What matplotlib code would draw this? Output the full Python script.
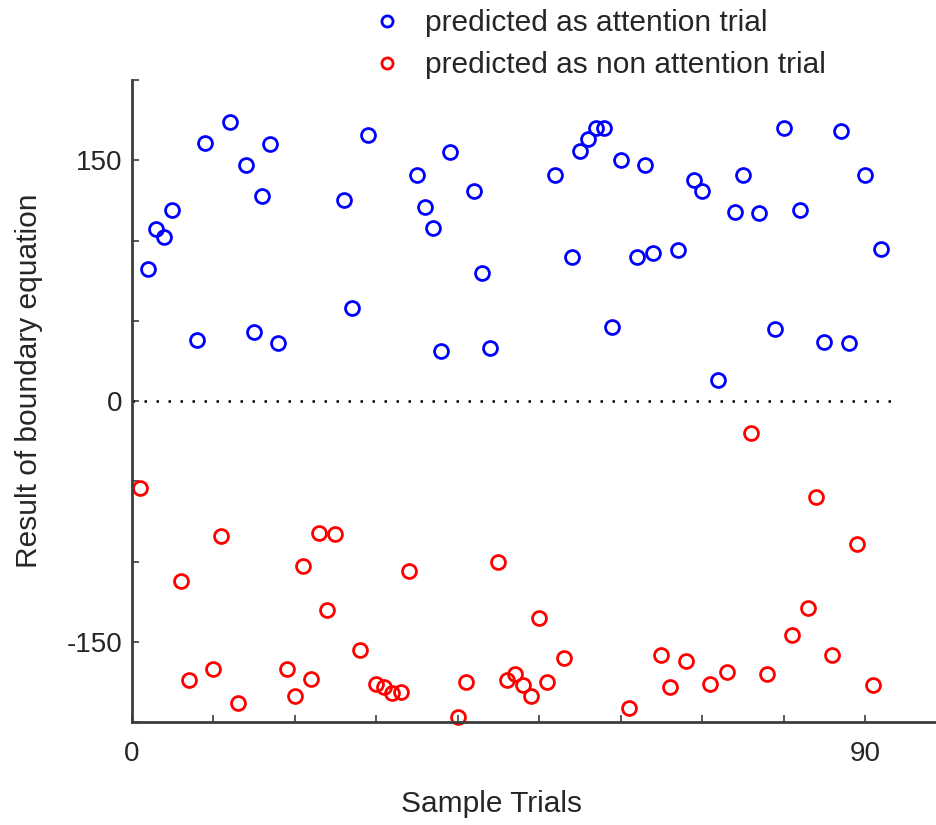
import matplotlib
matplotlib.use("Agg")
import matplotlib.pyplot as plt
from matplotlib.lines import Line2D

plt.rcParams['font.family'] = ['Liberation Sans', 'DejaVu Sans']

# trials predicted as attention (blue)
attention_trials = [2, 3, 4, 5, 8, 9, 12, 14, 15, 16, 17, 18, 26, 27, 29, 35, 36, 37, 38, 39,
                    42, 43, 44, 52, 54, 55, 56, 57, 58, 59, 60, 62, 63, 64, 67, 69, 70, 72,
                    74, 75, 77, 79, 80, 82, 85, 87, 88, 90, 92]
attention_values = [82, 107, 102, 119, 38, 161, 174, 147, 43, 128, 160, 36, 125, 58, 166,
                    141, 121, 108, 31, 155, 131, 80, 33, 141, 90, 156, 163, 170, 170, 46,
                    150, 90, 147, 92, 94, 138, 131, 13, 118, 141, 117, 45, 170, 119, 37,
                    168, 36, 141, 95]

# trials predicted as non attention (red)
non_attention_trials = [1, 6, 7, 10, 11, 13, 19, 20, 21, 22, 23, 24, 25, 28, 30, 31, 32, 33,
                        34, 40, 41, 45, 46, 47, 48, 49, 50, 51, 53, 61, 65, 66, 68, 71, 73,
                        76, 78, 81, 83, 84, 86, 89, 91]
non_attention_values = [-54, -112, -174, -167, -84, -188, -167, -184, -103, -173, -82, -130,
                        -83, -155, -176, -178, -182, -181, -106, -197, -175, -100, -174, -170,
                        -177, -184, -135, -175, -160, -191, -158, -178, -162, -176, -169, -20,
                        -170, -146, -129, -60, -158, -89, -177]

xticks = list(range(0, 100, 10))
xtick_labels = ['0', '', '', '', '', '', '', '', '', '90']
yticks = list(range(-200, 201, 50))
ytick_labels = ['', '-150', '', '', '0', '', '', '150', '']

fig = plt.figure(figsize=(9.37, 8.25), dpi=100)
ax = fig.add_axes([0.1406, 0.1248, 0.8696, 0.7782])

spine_color = '#3c3c3c'
text_color = '#262626'
ax.plot(attention_trials, attention_values, 'o', mfc='none', mec='#0000ff',
        ms=10, mew=2.0, clip_on=False)
ax.plot(non_attention_trials, non_attention_values, 'o', mfc='none', mec='#ff0000',
        ms=10, mew=2.0, clip_on=False)
ax.plot([0, 94], [0, 0], color='black', lw=1.8, linestyle=(0, (1, 3.8)))

ax.set_xlim(0, 100)
ax.set_ylim(-200, 200)
ax.set_xticks(xticks)
ax.set_xticklabels(xtick_labels)
ax.set_yticks(yticks)
ax.set_yticklabels(ytick_labels)
ax.tick_params(direction='in', length=5, width=1.2, color=spine_color,
               labelsize=20, labelcolor=text_color)
ax.tick_params(axis='x', pad=14)
ax.tick_params(axis='y', pad=7)

for side in ['top', 'right']:
    ax.spines[side].set_visible(False)
for side in ['left', 'bottom']:
    ax.spines[side].set_color(spine_color)
    ax.spines[side].set_linewidth(2.0)

ax.set_xlabel('Sample Trials', fontsize=21.5, color=text_color)
ax.xaxis.set_label_coords(0.441, -0.106)
ax.set_ylabel('Result of boundary equation', fontsize=21.5, color=text_color)
ax.yaxis.set_label_coords(-0.109, 0.531)

handles = [
    Line2D([], [], marker='o', ls='none', mfc='none', mec='#0000ff', ms=8, mew=2.0),
    Line2D([], [], marker='o', ls='none', mfc='none', mec='#ff0000', ms=8, mew=2.0),
]
fig.legend(handles, ['predicted as attention trial', 'predicted as non attention trial'],
           loc='upper left', bbox_to_anchor=(0.397, 0.989), frameon=False,
           fontsize=21.5, handlelength=1.0, handletextpad=0.77, labelspacing=0.48,
           borderpad=0, borderaxespad=0, labelcolor=text_color)

fig.savefig('out.png', dpi=100)
